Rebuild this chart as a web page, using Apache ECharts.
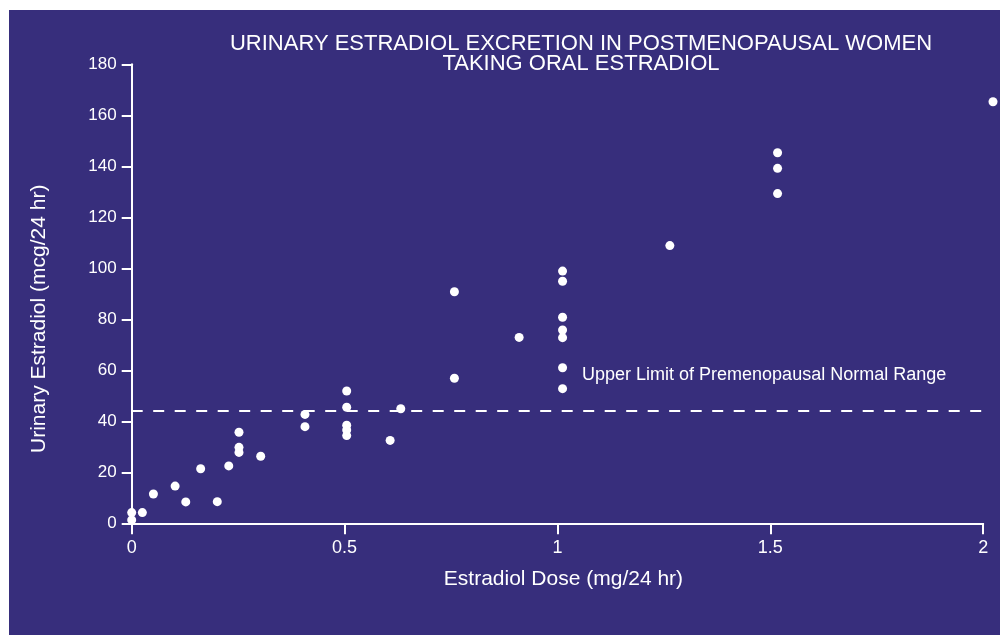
<!DOCTYPE html>
<html>
<head>
<meta charset="utf-8">
<script src="https://cdn.jsdelivr.net/npm/echarts@6/dist/echarts.min.js"></script>
<style>
  html, body { margin: 0; padding: 0; background: #ffffff; }
  #chart { width: 1000px; height: 635px; }
</style>
</head>
<body>
<div id="chart"></div>
<script>
// dose (mg/24 hr) and urinary estradiol (mcg/24 hr)
const doses = [0, 0, 0.025, 0.051, 0.102, 0.127, 0.162, 0.201, 0.228, 0.252, 0.252, 0.252,
  0.303, 0.407, 0.407, 0.505, 0.505, 0.505, 0.505, 0.505, 0.607, 0.632, 0.758, 0.758,
  0.910, 1.012, 1.012, 1.012, 1.012, 1.012, 1.012, 1.012, 1.264, 1.517, 1.517, 1.517, 2.023];
const urinary = [4.2, 1.3, 4.2, 11.5, 14.6, 8.4, 21.4, 8.5, 22.5, 35.7, 29.8, 27.8,
  26.3, 42.7, 37.9, 51.9, 45.5, 38.5, 36.6, 34.4, 32.5, 44.9, 90.8, 56.9,
  72.9, 98.9, 94.9, 80.8, 75.8, 72.8, 61.0, 52.8, 108.9, 145.3, 139.2, 129.3, 165.3];
const upperLimit = 44;
const xTicks = [0, 0.5, 1, 1.5, 2];
const yTicks = [0, 20, 40, 60, 80, 100, 120, 140, 160, 180];

const bg = '#372e7c';
const fg = '#ffffff';
const font = 'Liberation Sans, Arial, Helvetica, sans-serif';

const chart = echarts.init(document.getElementById('chart'));

const option = {
  backgroundColor: '#ffffff',
  animation: false,
  graphic: [{
    type: 'rect',
    z: -10,
    shape: { x: 9, y: 10, width: 991, height: 625 },
    style: { fill: bg }
  }],
  title: {
    text: 'URINARY ESTRADIOL EXCRETION IN POSTMENOPAUSAL WOMEN\nTAKING ORAL ESTRADIOL',
    left: 581,
    top: 33.5,
    padding: 0,
    textAlign: 'center',
    textStyle: { color: fg, fontFamily: font, fontSize: 22, fontWeight: 'normal', lineHeight: 20 }
  },
  grid: { left: 131.7, right: 16.8, top: 64.3, bottom: 111.7 },
  xAxis: {
    type: 'value',
    min: 0, max: 2, interval: 0.5,
    name: 'Estradiol Dose (mg/24 hr)',
    nameLocation: 'middle',
    nameGap: 45,
    nameTextStyle: { color: fg, fontFamily: font, fontSize: 21, padding: [0, 0, 0, 12] },
    axisLine: { lineStyle: { color: fg, width: 2 } },
    axisTick: { length: 11, lineStyle: { color: fg, width: 2 } },
    axisLabel: {
      color: fg, fontFamily: font, fontSize: 18, margin: 16,
      formatter: v => xTicks.includes(v) ? String(v) : ''
    },
    splitLine: { show: false }
  },
  yAxis: {
    type: 'value',
    min: 0, max: 180, interval: 20,
    name: 'Urinary Estradiol (mcg/24 hr)',
    nameLocation: 'middle',
    nameGap: 82,
    nameRotate: 90,
    nameTextStyle: { color: fg, fontFamily: font, fontSize: 21, padding: [0, 50, 0, 0] },
    axisLine: { show: true, lineStyle: { color: fg, width: 2 } },
    axisTick: { show: true, length: 10, lineStyle: { color: fg, width: 2 } },
    axisLabel: {
      color: fg, fontFamily: font, fontSize: 17, margin: 15,
      formatter: v => yTicks.includes(v) ? String(v) : ''
    },
    splitLine: { show: false }
  },
  series: [{
    type: 'scatter',
    clip: false,
    symbol: 'circle',
    symbolSize: 9,
    itemStyle: { color: fg, opacity: 1 },
    data: doses.map((d, i) => [d, urinary[i]]),
    markLine: {
      silent: true,
      symbol: 'none',
      lineStyle: { color: fg, type: [11, 10.5], width: 2 },
      label: {
        show: true,
        position: 'insideEndTop',
        distance: [37, 27],
        formatter: 'Upper Limit of Premenopausal Normal Range',
        color: fg, fontFamily: font, fontSize: 18
      },
      data: [{ yAxis: upperLimit }]
    }
  }]
};

chart.setOption(option);
</script>
</body>
</html>
